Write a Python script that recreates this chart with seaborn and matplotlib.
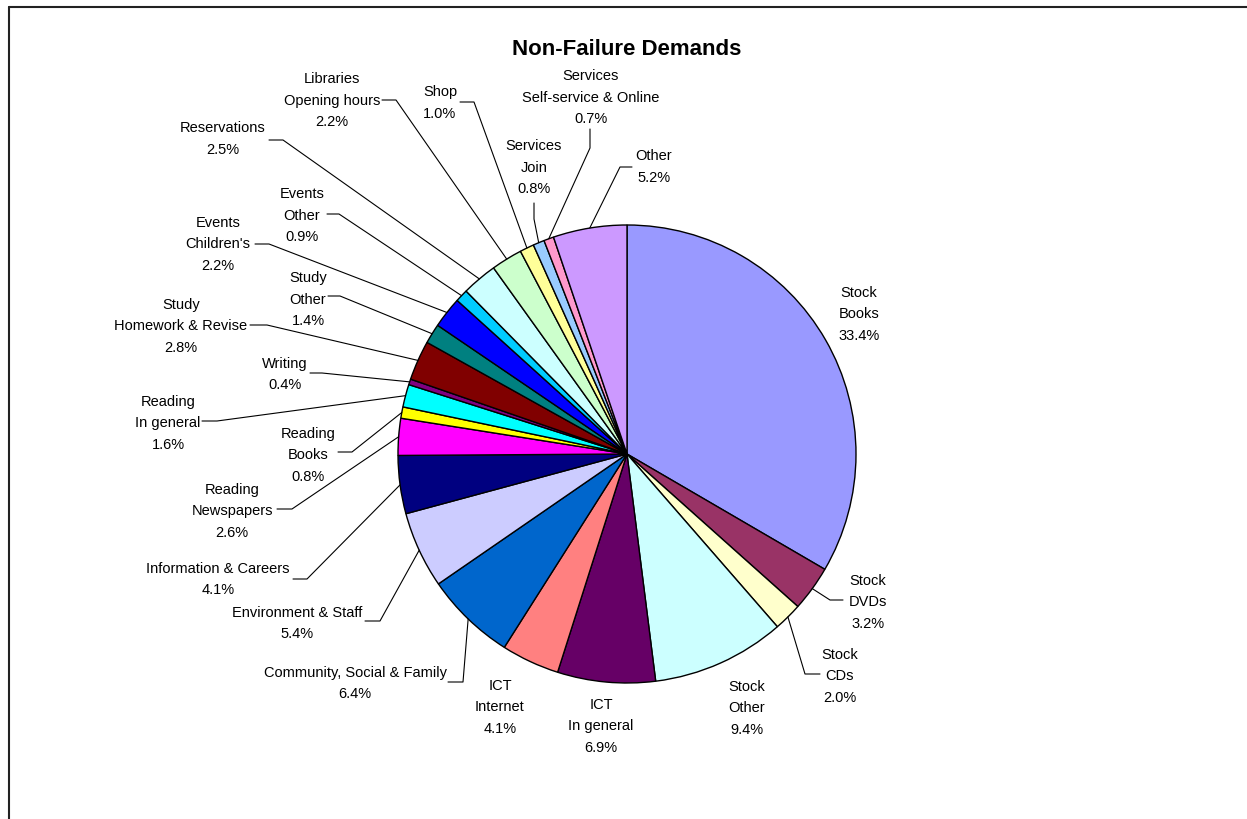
import matplotlib
matplotlib.use("Agg")
import numpy as np
import matplotlib.pyplot as plt
import seaborn as sns

sns.set_theme(style="white")
plt.rcParams["font.family"] = ["Liberation Sans", "DejaVu Sans"]

# slices, clockwise from 12 o'clock
categories = [
    "Stock\nBooks", "Stock\nDVDs", "Stock\nCDs", "Stock\nOther",
    "ICT\nIn general", "ICT\nInternet", "Community, Social & Family",
    "Environment & Staff", "Information & Careers", "Reading\nNewspapers",
    "Reading\nBooks", "Reading\nIn general", "Writing", "Study\nHomework & Revise",
    "Study\nOther", "Events\nChildren's", "Events\nOther", "Reservations",
    "Libraries\nOpening hours", "Shop", "Services\nJoin",
    "Services\nSelf-service & Online", "Other",
]
shares = [33.4, 3.2, 2.0, 9.4, 6.9, 4.1, 6.4, 5.4, 4.1, 2.6, 0.8, 1.6, 0.4,
          2.8, 1.4, 2.2, 0.9, 2.5, 2.2, 1.0, 0.8, 0.7, 5.2]
colors = ["#9999FF", "#993366", "#FFFFCC", "#CCFFFF", "#660066", "#FF8080",
          "#0066CC", "#CCCCFF", "#000080", "#FF00FF", "#FFFF00", "#00FFFF",
          "#800080", "#800000", "#008080", "#0000FF", "#00CCFF", "#CCFFFF",
          "#CCFFCC", "#FFFF99", "#99CCFF", "#FF99CC", "#CC99FF"]

# label layout in pixel coords (x centre, y of first line), plus leader line (end, elbow)
label_xy = [(859, 292), (868, 580), (840, 654), (747, 686), (601, 704), (500, 685),
            (355, 672), (297, 612), (218, 568), (232, 489), (308, 433), (168, 401),
            (285, 363), (181, 304), (308, 277), (218, 222), (302, 193), (223, 127),
            (332, 78), (440, 91), (534, 145), (591, 75), (654, 155)]
leaders = [None, ((843, 601), (830, 601)), ((820, 675), (805, 675)), None, None, None,
           ((448, 683), (463, 683)), ((365, 622), (380, 622)), ((293, 580), (307, 580)),
           ((277, 510), (292, 510)), ((338, 453), (352, 453)), ((202, 422), (217, 422)),
           ((310, 374), (322, 374)), ((250, 326), (267, 326)), ((328, 297), (340, 297)),
           ((255, 245), (269, 245)), ((327, 215), (339, 215)), ((269, 141), (283, 141)),
           ((382, 101), (396, 101)), ((460, 103), (474, 103)), ((534, 204), (534, 220)),
           ((590, 130), (590, 149)), ((632, 168), (620, 168))]

W, H = 1247, 820
cx, cy, r = 627, 455, 229


def fy(y):
    # pixel row -> data y
    return H - y


fig = plt.figure(figsize=(W / 100, H / 100), dpi=100)
ax = fig.add_axes([0, 0, 1, 1])

wedges, _ = ax.pie(shares, colors=colors, startangle=90, counterclock=False,
                   center=(cx, fy(cy)), radius=r,
                   wedgeprops=dict(edgecolor="black", linewidth=1.0))

ax.set_xlim(0, W)
ax.set_ylim(0, H)
ax.set_aspect("equal")
ax.axis("off")

for w, cat, val, (lx, ly), lead in zip(wedges, categories, shares, label_xy, leaders):
    lines = cat.split("\n") + [f"{val:.1f}%"]
    for i, line in enumerate(lines):
        ax.text(lx, fy(ly + i * 21.5 + 5), line, ha="center", va="baseline",
                fontsize=10.5, color="black")
    if lead is not None:
        # leader starts on the arc at the middle of the wedge
        mid = np.deg2rad((w.theta1 + w.theta2) / 2)
        px, py = cx + r * np.cos(mid), fy(cy) + r * np.sin(mid)
        (ex, ey), (bx, by) = lead
        ax.plot([ex, bx, px], [fy(ey), fy(by), py], color="black", lw=0.8)

ax.text(627, fy(55), "Non-Failure Demands", ha="center", va="baseline",
        fontsize=16, fontweight="bold", color="black")

# chart frame (only top and left edges fall inside the picture)
ax.plot([9, W], [fy(8), fy(8)], color="#222222", lw=1.5, clip_on=False)
ax.plot([9, 9], [fy(8), 0], color="#222222", lw=1.5, clip_on=False)

fig.savefig("out.png", dpi=100, facecolor="white")
